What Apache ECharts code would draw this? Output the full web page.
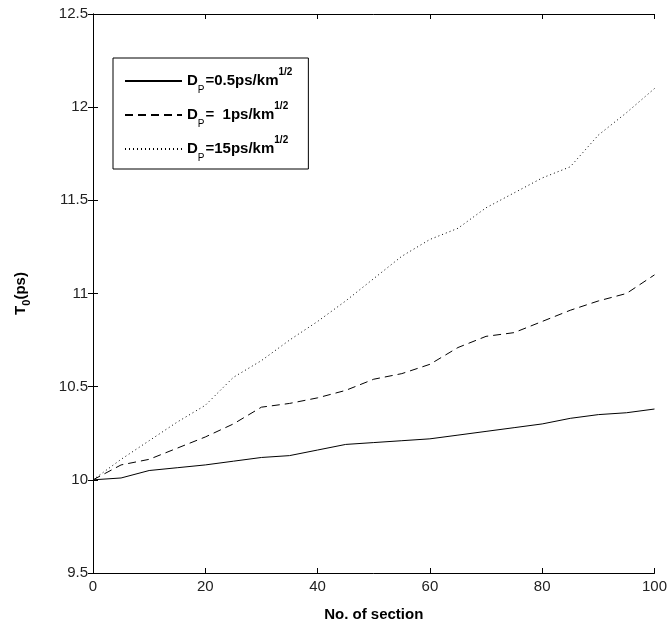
<!DOCTYPE html>
<html>
<head>
<meta charset="utf-8">
<script src="https://cdn.jsdelivr.net/npm/echarts@6/dist/echarts.min.js"></script>
<style>
  html, body { margin: 0; padding: 0; background: #fff; }
  #main { width: 670px; height: 629px; }
</style>
</head>
<body>
<div id="main"></div>
<script>
// section number along the fibre
var sections = [0, 5, 10, 15, 20, 25, 30, 35, 40, 45, 50, 55, 60, 65, 70, 75, 80, 85, 90, 95, 100];
// T0 (ps) for each PMD value
var dp05 = [10, 10.01, 10.05, 10.065, 10.08, 10.1, 10.12, 10.13, 10.16, 10.19, 10.2, 10.21, 10.22, 10.24, 10.26, 10.28, 10.3, 10.33, 10.35, 10.36, 10.38];
var dp1  = [10, 10.08, 10.11, 10.17, 10.23, 10.3, 10.39, 10.41, 10.44, 10.48, 10.54, 10.57, 10.62, 10.71, 10.77, 10.79, 10.85, 10.91, 10.96, 11.0, 11.1];
var dp15 = [10, 10.11, 10.21, 10.31, 10.4, 10.55, 10.64, 10.75, 10.85, 10.96, 11.08, 11.2, 11.29, 11.35, 11.46, 11.54, 11.62, 11.68, 11.85, 11.97, 12.1];

var legendText = {
  'Dp05': '{a|D}{s|P}{a|=0.5ps/km}{u|1/2}',
  'Dp1': '{a|D}{s|P}{a|=  1ps/km}{u|1/2}',
  'Dp15': '{a|D}{s|P}{a|=15ps/km}{u|1/2}'
};

function pairs(ys) {
  var out = [];
  for (var i = 0; i < sections.length; i++) {
    out.push([sections[i], ys[i]]);
  }
  return out;
}

function mkSeries(name, ys, dash) {
  return {
    name: name,
    type: 'line',
    data: pairs(ys),
    showSymbol: false,
    symbol: 'none',
    lineStyle: { color: '#000', width: 1, type: dash },
    itemStyle: { color: '#000' }
  };
}

var myChart = echarts.init(document.getElementById('main'));

var font = 'Arial, "Liberation Sans", sans-serif';

option = {
  animation: false,
  backgroundColor: '#fff',
  grid: { left: 93, right: 15, top: 14, bottom: 56 },
  legend: {
    orient: 'vertical',
    left: 113,
    top: 58,
    width: 195,
    padding: [9, 16, 6, 11],
    itemGap: 6,
    itemWidth: 57,
    itemHeight: 10,
    borderColor: '#000',
    borderWidth: 1,
    itemStyle: { opacity: 0 },
    data: ['Dp05', 'Dp1', 'Dp15'],
    formatter: function (name) {
      return legendText[name];
    },
    textStyle: {
      fontFamily: font,
      color: '#000',
      rich: {
        a: { fontSize: 15, fontWeight: 'bold', fontFamily: font, lineHeight: 28, verticalAlign: 'middle' },
        s: { fontSize: 10, fontFamily: font, lineHeight: 12, verticalAlign: 'bottom', padding: [0, 1, 0, 0] },
        u: { fontSize: 10, fontWeight: 'bold', fontFamily: font, lineHeight: 14, verticalAlign: 'top' }
      }
    }
  },
  xAxis: [{
    type: 'value',
    min: 0,
    max: 100,
    interval: 20,
    name: 'No. of section',
    nameLocation: 'middle',
    nameGap: 34,
    nameTextStyle: { fontFamily: font, fontSize: 15, fontWeight: 'bold', color: '#000' },
    axisLine: { show: true, lineStyle: { color: '#000', width: 1 } },
    axisTick: { show: true, inside: true, length: 5, lineStyle: { color: '#000' } },
    axisLabel: { fontFamily: font, fontSize: 15, color: '#222', margin: 6 },
    splitLine: { show: false }
  }, {
    type: 'value',
    position: 'top',
    min: 0,
    max: 100,
    interval: 20,
    axisLine: { show: true, lineStyle: { color: '#000', width: 1 } },
    axisTick: { show: true, inside: true, length: 5, lineStyle: { color: '#000' } },
    axisLabel: { show: false },
    splitLine: { show: false }
  }],
  yAxis: [{
    type: 'value',
    min: 9.5,
    max: 12.5,
    interval: 0.5,
    name: '{a|T}{s|0}{a|(ps)}',
    nameLocation: 'middle',
    nameRotate: 90,
    nameGap: 61,
    nameTextStyle: {
      color: '#000',
      rich: {
        a: { fontFamily: font, fontSize: 15, fontWeight: 'bold', lineHeight: 22, verticalAlign: 'middle' },
        s: { fontFamily: font, fontSize: 11, fontWeight: 'bold', lineHeight: 11, verticalAlign: 'bottom' }
      }
    },
    axisLine: { show: true, lineStyle: { color: '#000', width: 1 } },
    axisTick: { show: true, inside: true, length: 5, lineStyle: { color: '#000' } },
    axisLabel: { fontFamily: font, fontSize: 15, color: '#222', margin: 5 },
    splitLine: { show: false }
  }, {
    type: 'value',
    position: 'right',
    min: 9.5,
    max: 12.5,
    interval: 0.5,
    axisLine: { show: true, lineStyle: { color: '#000', width: 1 } },
    axisTick: { show: true, inside: true, length: 5, lineStyle: { color: '#000' } },
    axisLabel: { show: false },
    splitLine: { show: false }
  }],
  series: [
    mkSeries('Dp05', dp05, 'solid'),
    mkSeries('Dp1', dp1, [8, 5]),
    mkSeries('Dp15', dp15, [1, 3])
  ]
};

myChart.setOption(option);
</script>
</body>
</html>
